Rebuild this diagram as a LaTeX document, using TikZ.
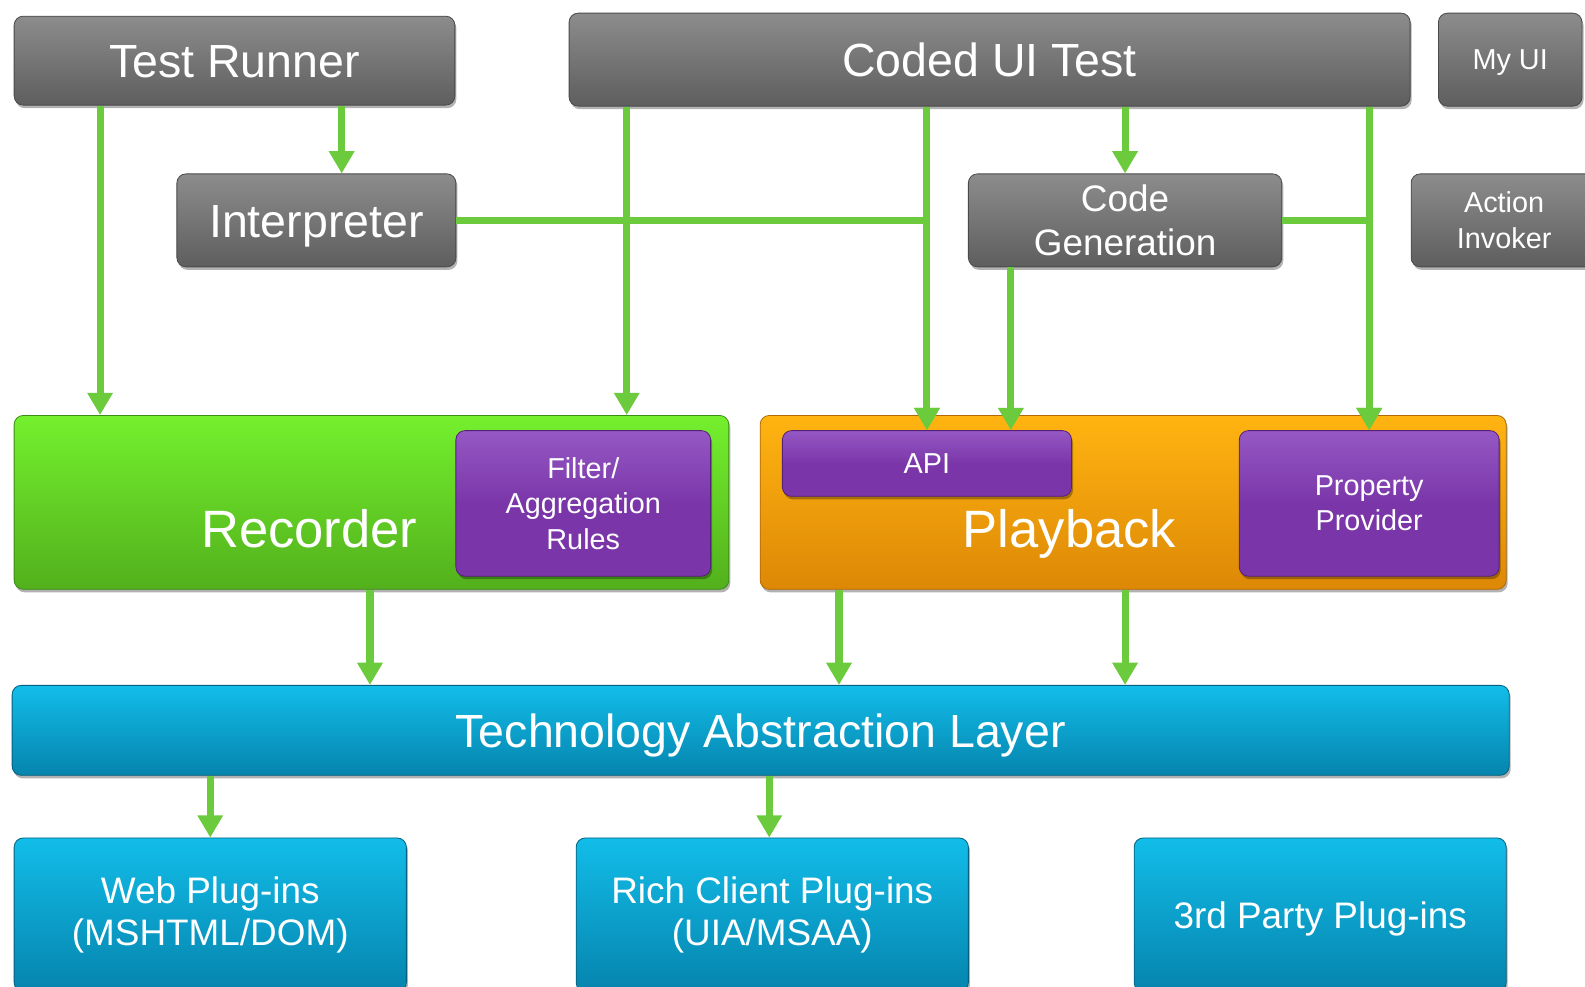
\documentclass[tikz,border=0pt]{standalone}
\usepackage{fontspec}
\setmainfont{Liberation Sans}
\usetikzlibrary{arrows.meta,shadows}
\definecolor{lgreen}{HTML}{6BCB3C}
\definecolor{grayt}{HTML}{8C8C8C}
\definecolor{grayb}{HTML}{5E5E5E}
\definecolor{grayd}{HTML}{4A4A4A}
\definecolor{greent}{HTML}{74F02E}
\definecolor{greenb}{HTML}{52B01C}
\definecolor{greend}{HTML}{3E8A18}
\definecolor{oranget}{HTML}{FFB411}
\definecolor{orangeb}{HTML}{DD8806}
\definecolor{oranged}{HTML}{B06A05}
\definecolor{purp}{HTML}{7A36A8}
\definecolor{purpt}{HTML}{9558C4}
\definecolor{purpd}{HTML}{55207A}
\definecolor{bluet}{HTML}{12BDE9}
\definecolor{blueb}{HTML}{0584AD}
\definecolor{blued}{HTML}{04607E}
\begin{document}
\begin{tikzpicture}[x=1pt,y=-1pt,
  box/.style={rounded corners=9pt, inner sep=0pt, text=white, align=center,
    drop shadow={shadow xshift=1.5pt, shadow yshift=-3pt, opacity=0.3, fill=black}},
  graybox/.style={box, top color=grayt, bottom color=grayb, draw=grayd, line width=0.8pt},
  greenbox/.style={box, top color=greent, bottom color=greenb, draw=greend, line width=0.8pt},
  orangebox/.style={box, top color=oranget, bottom color=orangeb, draw=oranged, line width=0.8pt},
  purplebox/.style={box, top color=purpt, bottom color=purp, middle color=purp, draw=purpd, line width=0.8pt},
  bluebox/.style={box, top color=bluet, bottom color=blueb, draw=blued, line width=0.8pt},
  oneline/.style={text height=#1, text depth=0pt},
  fbig/.style={font=\fontsize{46}{52}\selectfont},
  fhuge/.style={font=\fontsize{52}{58}\selectfont},
  fmid/.style={font=\fontsize{36.5}{44}\selectfont},
  fsmall/.style={font=\fontsize{28.5}{35}\selectfont},
  lbl/.style={inner sep=0pt, text=white, align=center},
  conn/.style={draw=lgreen, line width=7pt, -{Triangle[width=24pt,length=22pt]}}
]
\useasboundingbox (0,0) rectangle (1568,976.4);

% top row
\node[graybox, fbig, oneline=33pt, minimum width=436pt, minimum height=88pt] (tr) at (232,60) {Test Runner};
\node[graybox, fbig, oneline=33pt, minimum width=832pt, minimum height=92pt] (cui) at (979,59) {Coded UI Test};
\node[graybox, fsmall, oneline=20.4pt, minimum width=142pt, minimum height=92pt] (myui) at (1494,59) {My UI};
% second row
\node[graybox, fbig, oneline=33pt, minimum width=276pt, minimum height=92pt] (int) at (313,218) {Interpreter};
\node[graybox, fmid, minimum width=310pt, minimum height=92pt] (cg) at (1113,218) {Code\\Generation};
\node[graybox, fsmall, minimum width=184pt, minimum height=92pt] (ai) at (1488,218) {Action\\Invoker};
% recorder / playback
\node[greenbox, minimum width=707pt, minimum height=172pt] (rec) at (367.5,497) {};
\node[lbl, fhuge, oneline=37.2pt] (rectxt) at (306,523) {Recorder};
\node[purplebox, fsmall, minimum width=252pt, minimum height=144pt] (far) at (577,498) {Filter/\\Aggregation\\Rules};
\node[orangebox, minimum width=738pt, minimum height=172pt] (pb) at (1121,497) {};
\node[lbl, fhuge, oneline=37.2pt] (pbtxt) at (1058,523) {Playback};
\node[purplebox, fsmall, oneline=20.4pt, minimum width=286pt, minimum height=65pt] (api) at (917,458.5) {API};
\node[purplebox, fsmall, minimum width=257pt, minimum height=144pt] (pp) at (1354.5,498) {Property\\Provider};
% TAL
\node[bluebox, fbig, oneline=33pt, minimum width=1481pt, minimum height=89pt] (tal) at (752.5,722.5) {Technology Abstraction Layer};
% plug-ins
\node[bluebox, fmid, minimum width=388pt, minimum height=152pt] (web) at (208,905) {\raisebox{-3pt}{\shortstack{Web Plug-ins\\[4pt](MSHTML/DOM)}}};
\node[bluebox, fmid, minimum width=388pt, minimum height=152pt] (rich) at (764,905) {\raisebox{-3pt}{\shortstack{Rich Client Plug-ins\\[4pt](UIA/MSAA)}}};
\node[bluebox, fmid, oneline=26.1pt, minimum width=368pt, minimum height=152pt] (third) at (1306,905) {3rd Party Plug-ins};

% x positions
\coordinate (x99) at (99,0);
\coordinate (x338) at (338,0);
\coordinate (x620) at (620,0);
\coordinate (x1000) at (1000,0);
\coordinate (x366) at (366,0);
\coordinate (x830) at (830,0);
\coordinate (x1113) at (1113,0);
\coordinate (x761) at (761,0);

% connectors
\draw[conn] (tr.south -| x99) -- (rec.north -| x99);
\draw[conn] (tr.south -| x338) -- (int.north -| x338);
\draw[conn] (cui.south -| x620) -- (rec.north -| x620);
\draw[conn] (int.east) -| (api.north);
\draw[conn] (cui.south -| api.north) -- (api.north);
\draw[conn] (cui.south -| cg.north) -- (cg.north);
\draw[conn] (cg.south -| x1000) -- (api.north -| x1000);
\draw[conn] (cg.east) -| (pp.north);
\draw[conn] (cui.south -| pp.north) -- (pp.north);
\draw[conn] (rec.south -| x366) -- (tal.north -| x366);
\draw[conn] (pb.south -| x830) -- (tal.north -| x830);
\draw[conn] (pb.south -| x1113) -- (tal.north -| x1113);
\draw[conn] (tal.south -| web.north) -- (web.north);
\draw[conn] (tal.south -| x761) -- (rich.north -| x761);
\end{tikzpicture}
\end{document}
